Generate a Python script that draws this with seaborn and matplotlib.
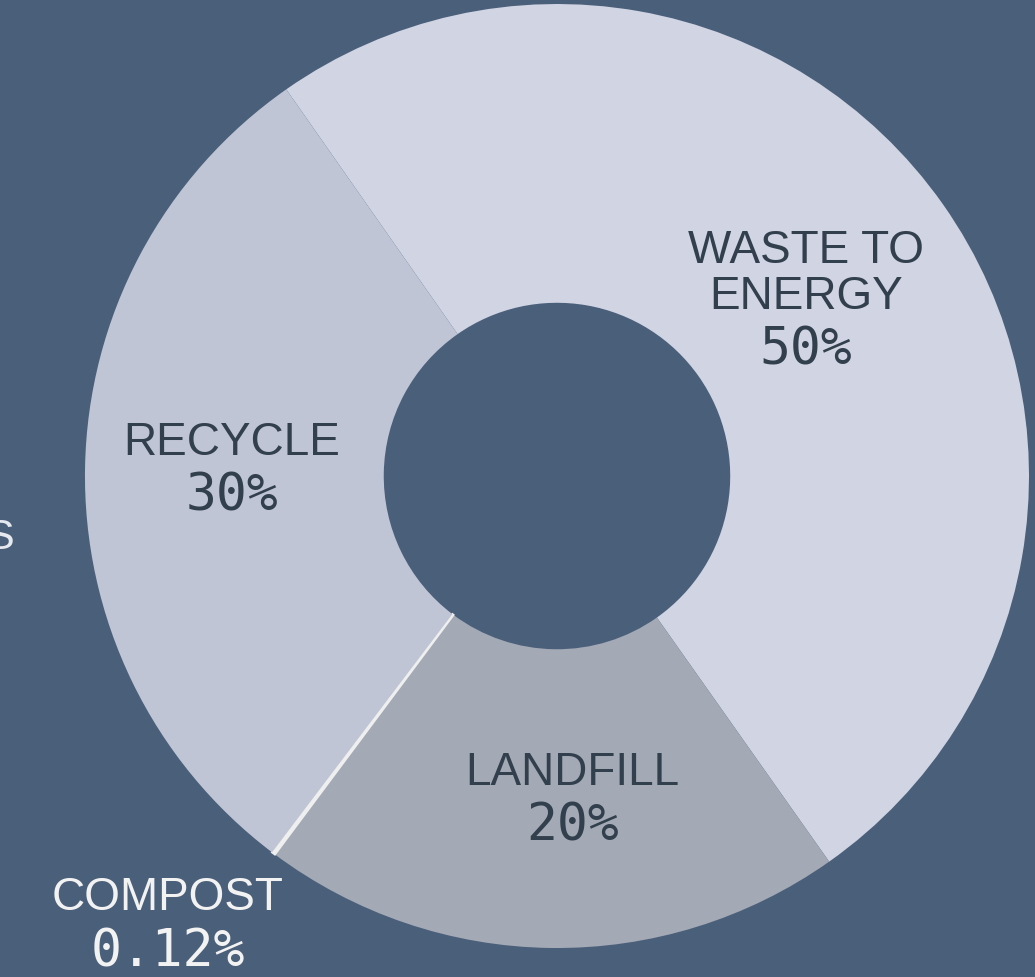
import numpy as np
import matplotlib
matplotlib.use("Agg")
import matplotlib.pyplot as plt
import seaborn as sns

categories = ["WASTE TO\nENERGY", "LANDFILL", "COMPOST", "RECYCLE"]
shares = [50, 20, 0.12, 30]
pct_labels = ["50%", "20%", "0.12%", "30%"]
colors = ["#d0d4e3", "#a3a9b5", "#efefef", "#bfc5d5"]
label_r = [0.645, 0.687, 1.26, 0.689]
label_da = [0, 3.5, -4, 0]

bg = "#4a5f7a"
sns.set_theme(style="white", rc={"figure.facecolor": bg, "axes.facecolor": bg})

fig = plt.figure(figsize=(10.35, 9.77), dpi=100)
ax = fig.add_axes([0, 0, 1, 1])

wedges, _ = ax.pie(shares, colors=colors, startangle=125, counterclock=False,
                   radius=1.0, wedgeprops=dict(width=0.633, linewidth=0))
# make the tiny compost slice visible
wedges[2].set_edgecolor(colors[2])
wedges[2].set_linewidth(1.5)

px = 1 / 472.0  # one pixel in data units
for w, name, pct, r, da in zip(wedges, categories, pct_labels, label_r, label_da):
    mid = np.deg2rad((w.theta1 + w.theta2) / 2 + da)
    x, y = r * np.cos(mid), r * np.sin(mid)
    col = "#f2f2f2" if name == "COMPOST" else "#323f4d"
    lines = name.split("\n")
    offs = [i * 46 for i in range(len(lines))] + [(len(lines) - 1) * 46 + 54]
    shift = (offs[0] + offs[-1]) / 2
    for ln, o in zip(lines, offs[:-1]):
        ax.text(x, y - (o - shift) * px, ln, ha="center", va="center",
                fontsize=33, family="Liberation Sans", color=col)
    ax.text(x, y - (offs[-1] - shift) * px, pct, ha="center", va="center",
            fontsize=37, family="DejaVu Sans Mono", color=col)

# partly cut-off text on the left edge
fig.text(0.0135, 0.449, "S", ha="right", va="center", fontsize=31,
         family="Liberation Sans", color="#e6e9f0")

ax.set_aspect("auto")
ax.set_xlim(-1.180, 1.0127)
ax.set_ylim(-1.0614, 1.0085)
ax.axis("off")

fig.savefig("out.png", dpi=100, facecolor=bg)
